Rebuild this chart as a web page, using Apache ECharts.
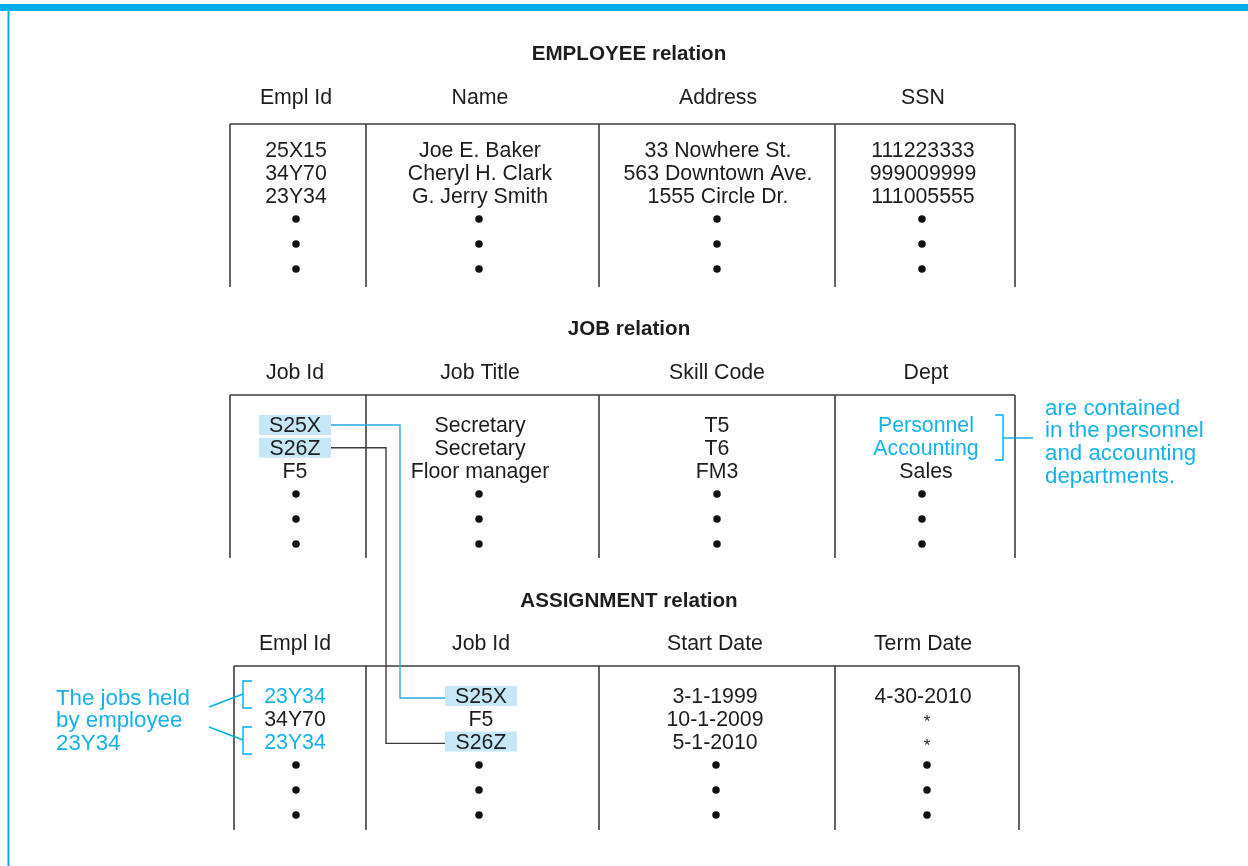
<!DOCTYPE html>
<html>
<head>
<meta charset="utf-8">
<script src="https://cdn.jsdelivr.net/npm/echarts@6/dist/echarts.min.js"></script>
<style>html,body{margin:0;padding:0;background:#fff}#c{width:1248px;height:866px}</style>
</head>
<body>
<div id="c"></div>
<script>
// ---------------- DATA ----------------
var employeeTitle = 'EMPLOYEE relation';
var employeeHeaders = ['Empl Id', 'Name', 'Address', 'SSN'];
var employeeIds = ['25X15', '34Y70', '23Y34'];
var employeeNames = ['Joe E. Baker', 'Cheryl H. Clark', 'G. Jerry Smith'];
var employeeAddresses = ['33 Nowhere St.', '563 Downtown Ave.', '1555 Circle Dr.'];
var employeeSSNs = ['111223333', '999009999', '111005555'];

var jobTitle = 'JOB relation';
var jobHeaders = ['Job Id', 'Job Title', 'Skill Code', 'Dept'];
var jobIds = ['S25X', 'S26Z', 'F5'];
var jobTitles = ['Secretary', 'Secretary', 'Floor manager'];
var skillCodes = ['T5', 'T6', 'FM3'];
var depts = ['Personnel', 'Accounting', 'Sales'];

var assignmentTitle = 'ASSIGNMENT relation';
var assignmentHeaders = ['Empl Id', 'Job Id', 'Start Date', 'Term Date'];
var assignmentEmplIds = ['23Y34', '34Y70', '23Y34'];
var assignmentJobIds = ['S25X', 'F5', 'S26Z'];
var startDates = ['3-1-1999', '10-1-2009', '5-1-2010'];
var termDates = ['4-30-2010', '*', '*'];

var deptNote = ['are contained', 'in the personnel', 'and accounting', 'departments.'];
var emplNote = ['The jobs held', 'by employee', '23Y34'];

// highlighted cells: [table, column, row]
var blueCells = [[1, 3, 0], [1, 3, 1], [2, 0, 0], [2, 0, 2]];
var shadedCells = [[1, 0, 0], [1, 0, 1], [2, 1, 0], [2, 1, 2]];

// ---------------- STYLE / LAYOUT ----------------
var W = 1248, H = 866;
var INK = '#1e1c1d', RULE = '#3d3d3d', CYAN = '#00aeef', CYAN_TXT = '#16b1ea', SHADE = '#c6e7f6';
var FONT = '"Liberation Sans", Arial, sans-serif';
var BODY = '21.3px ' + FONT, NOTE = '22.3px ' + FONT, TITLE = 'bold 20.6px ' + FONT;
var TEXT_DY = 1.5;
var tables = [
  { title: employeeTitle, headers: employeeHeaders, cols: [employeeIds, employeeNames, employeeAddresses, employeeSSNs],
    titleY: 53, headerY: 97, topY: 124, bottomY: 287, rowY: 150,
    edges: [230, 366, 599, 835, 1015], centers: [296, 480, 718, 923], dotCenters: [296, 479, 717, 922] },
  { title: jobTitle, headers: jobHeaders, cols: [jobIds, jobTitles, skillCodes, depts],
    titleY: 328, headerY: 372, topY: 395, bottomY: 558, rowY: 425,
    edges: [230, 366, 599, 835, 1015], centers: [295, 480, 717, 926], dotCenters: [296, 479, 717, 922] },
  { title: assignmentTitle, headers: assignmentHeaders, cols: [assignmentEmplIds, assignmentJobIds, startDates, termDates],
    titleY: 600, headerY: 643, topY: 666, bottomY: 830, rowY: 696,
    edges: [234, 366, 599, 835, 1019], centers: [295, 481, 715, 923], dotCenters: [296, 479, 716, 927] }
];
var ROW_STEP = 22.7, DOT_OFFSET = 69, DOT_STEP = 25;

function isIn(list, t, c, r) {
  return list.some(function (e) { return e[0] === t && e[1] === c && e[2] === r; });
}

var texts = [], lines = [], rects = [], dots = [];
tables.forEach(function (tb, ti) {
  texts.push({ x: 629, y: tb.titleY, text: tb.title, font: TITLE, color: INK, align: 'center' });
  tb.headers.forEach(function (h, ci) {
    texts.push({ x: tb.centers[ci], y: tb.headerY, text: h, font: BODY, color: INK, align: 'center' });
  });
  // rules
  lines.push({ pts: [[tb.edges[0], tb.topY], [tb.edges[4], tb.topY]], color: RULE, w: 1.6 });
  tb.edges.forEach(function (x) {
    lines.push({ pts: [[x, tb.topY], [x, tb.bottomY]], color: RULE, w: 1.6 });
  });
  tb.cols.forEach(function (col, ci) {
    col.forEach(function (v, ri) {
      var y = tb.rowY + ri * ROW_STEP;
      var star = v === '*';
      if (isIn(shadedCells, ti, ci, ri)) {
        rects.push({ x: tb.centers[ci] - 36, y: y - 10, w: 72, h: 20 });
      }
      texts.push({
        x: star ? tb.dotCenters[ci] : tb.centers[ci], y: star ? y + 1 + ri : y, text: v,
        font: (star ? '17px ' : '21.3px ') + FONT,
        color: isIn(blueCells, ti, ci, ri) ? CYAN_TXT : INK, align: 'center'
      });
    });
    for (var k = 0; k < 3; k++) dots.push([tb.dotCenters[ci], tb.rowY + DOT_OFFSET + k * DOT_STEP]);
  });
});

// connectors from JOB ids to ASSIGNMENT job ids
var jb = tables[1], asg = tables[2];
lines.push({ pts: [[jb.centers[0] + 36, jb.rowY], [400, jb.rowY], [400, asg.rowY + 2], [asg.centers[1] - 36, asg.rowY + 2]], color: '#29abe2', w: 1.4 });
lines.push({ pts: [[jb.centers[0] + 36, jb.rowY + ROW_STEP], [386, jb.rowY + ROW_STEP], [386, asg.rowY + 2 * ROW_STEP + 2], [asg.centers[1] - 36, asg.rowY + 2 * ROW_STEP + 2]], color: RULE, w: 1.4 });

// dept bracket + note
lines.push({ pts: [[995, 415], [1003, 415], [1003, 460], [995, 460]], color: CYAN, w: 1.4 });
lines.push({ pts: [[1003, 438], [1033, 438]], color: CYAN, w: 1.4 });
deptNote.forEach(function (s, i) {
  texts.push({ x: 1045, y: 407 + i * 22.7, text: s, font: NOTE, color: CYAN_TXT, align: 'left' });
});
// employee brackets + note
lines.push({ pts: [[252, 681], [243, 681], [243, 708], [252, 708]], color: CYAN, w: 1.4 });
lines.push({ pts: [[252, 727], [243, 727], [243, 754], [252, 754]], color: CYAN, w: 1.4 });
lines.push({ pts: [[209, 707], [243, 694]], color: CYAN, w: 1.4 });
lines.push({ pts: [[209, 727], [243, 740]], color: CYAN, w: 1.4 });
emplNote.forEach(function (s, i) {
  texts.push({ x: 56, y: 697 + i * 22.7, text: s, font: NOTE, color: CYAN_TXT, align: 'left' });
});

// frame
rects.unshift({ x: 0, y: 4, w: W, h: 7, color: CYAN });
lines.unshift({ pts: [[8.5, 10], [8.5, H]], color: CYAN, w: 2 });

// ---------------- CHART ----------------
var chart = echarts.init(document.getElementById('c'), null, { renderer: 'canvas' });
chart.setOption({
  animation: false,
  backgroundColor: '#ffffff',
  grid: { left: 0, right: 0, top: 0, bottom: 0 },
  xAxis: { type: 'value', min: 0, max: W, show: false },
  yAxis: { type: 'value', min: 0, max: H, inverse: true, show: false },
  series: [
    {
      type: 'custom', name: 'shading', z: 1,
      data: rects.map(function (r) { return [r.x, r.y]; }),
      renderItem: function (params, api) {
        var r = rects[params.dataIndex];
        var p0 = api.coord([r.x, r.y]), p1 = api.coord([r.x + r.w, r.y + r.h]);
        return { type: 'rect', shape: { x: p0[0], y: p0[1], width: p1[0] - p0[0], height: p1[1] - p0[1] },
          style: { fill: r.color || SHADE } };
      }
    },
    {
      type: 'custom', name: 'rules', z: 2,
      data: lines.map(function (l) { return l.pts[0]; }),
      renderItem: function (params, api) {
        var l = lines[params.dataIndex];
        return { type: 'polyline', shape: { points: l.pts.map(function (p) { return api.coord(p); }) },
          style: { stroke: l.color, lineWidth: l.w, fill: null } };
      }
    },
    {
      type: 'scatter', name: 'dots', z: 3, symbol: 'circle', symbolSize: 7.5,
      itemStyle: { color: '#111', opacity: 1 }, data: dots, silent: true
    },
    {
      type: 'custom', name: 'texts', z: 4,
      data: texts.map(function (t) { return [t.x, t.y]; }),
      renderItem: function (params, api) {
        var t = texts[params.dataIndex];
        var p = api.coord([t.x, t.y + TEXT_DY]);
        return { type: 'text', x: p[0], y: p[1],
          style: { text: t.text, font: t.font, fill: t.color, align: t.align, verticalAlign: 'middle' } };
      }
    }
  ]
});
</script>
</body>
</html>
